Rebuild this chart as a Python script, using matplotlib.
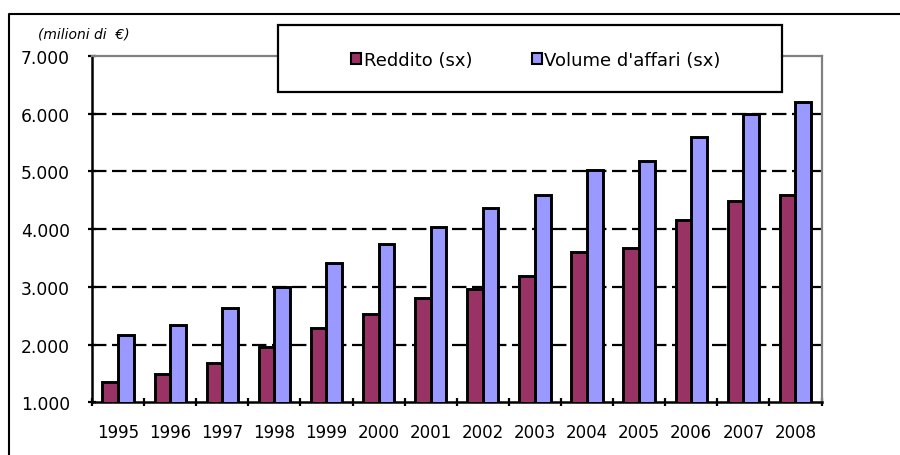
import matplotlib
matplotlib.use("Agg")
import matplotlib.pyplot as plt
from matplotlib.patches import Patch, Rectangle
from matplotlib.lines import Line2D
from matplotlib.ticker import FuncFormatter, FixedLocator
import numpy as np

years = ["1995", "1996", "1997", "1998", "1999", "2000", "2001",
         "2002", "2003", "2004", "2005", "2006", "2007", "2008"]
reddito = [1355, 1485, 1675, 1965, 2280, 2525, 2800,
           2970, 3190, 3600, 3670, 4160, 4490, 4590]
volume = [2165, 2335, 2640, 2990, 3405, 3740, 4045,
          4375, 4600, 5030, 5180, 5590, 5990, 6210]
series_names = ["Reddito (sx)", "Volume d'affari (sx)"]
colors = ["#993366", "#9999FF"]
unit_label = "(milioni di  €)"

plt.rcParams['font.family'] = ['DejaVu Sans']

fig = plt.figure(figsize=(9, 4.56), dpi=100)
L, R, B, T = 92, 821.5, 403.3, 57
ax = fig.add_axes([L / 900, 1 - B / 456, (R - L) / 900, (B - T) / 456])

x = np.arange(len(years))
w = 0.3
ax.bar(x - w / 2, reddito, w, color=colors[0], edgecolor='black', linewidth=2.1, zorder=3)
ax.bar(x + w / 2, volume, w, color=colors[1], edgecolor='black', linewidth=2.1, zorder=3)

ax.set_xlim(-0.5, len(years) - 0.5)
ax.set_ylim(1000, 7000)

yt = np.arange(1000, 7001, 1000)
ax.set_yticks(yt)
ax.yaxis.set_major_formatter(FuncFormatter(lambda v, p: f"{int(v):,}".replace(",", ".")))
for v in yt[1:-1]:
    ax.axhline(v, color='black', lw=1.6, linestyle=(0, (6.5, 2.5)), zorder=1)

ax.set_xticks(x)
ax.set_xticklabels(years)
ax.xaxis.set_minor_locator(FixedLocator(np.arange(-0.5, len(years), 1.0)))
ax.tick_params(axis='x', which='major', length=0, pad=15, labelsize=12)
ax.tick_params(axis='x', which='minor', direction='inout', length=6, width=1.6)
ax.tick_params(axis='y', direction='inout', length=6, width=1.6, pad=13, labelsize=12.3)

for s in ['left', 'bottom']:
    ax.spines[s].set_color('black')
    ax.spines[s].set_linewidth(1.8)
for s in ['top', 'right']:
    ax.spines[s].set_color('#808080')
    ax.spines[s].set_linewidth(1.6)

fig.text(38 / 900, 1 - 35 / 456, unit_label, fontsize=10, style='italic', va='center', ha='left')

# outer frame (left and top visible)
fig.add_artist(Line2D([9 / 900, 9 / 900, 1.01], [-0.02, 1 - 15 / 456, 1 - 15 / 456],
                      transform=fig.transFigure, color='black', lw=1.5))

# legend box
lx0, lx1, ly0, ly1 = 278, 782, 26, 93
fig.add_artist(Rectangle((lx0 / 900, 1 - ly1 / 456), (lx1 - lx0) / 900, (ly1 - ly0) / 456,
                         transform=fig.transFigure, facecolor='white', edgecolor='black',
                         lw=1.6, zorder=10))
handles = [Patch(facecolor=c, edgecolor='black', linewidth=1.5) for c in colors]
leg = fig.legend(handles, series_names, loc='center', ncol=2,
                 bbox_to_anchor=(536 / 900, 1 - 61 / 456), frameon=False,
                 fontsize=13, handlelength=0.55, handleheight=0.55, handletextpad=0.15,
                 columnspacing=3.3)
leg.set_zorder(11)

fig.savefig("out.png", dpi=100)
